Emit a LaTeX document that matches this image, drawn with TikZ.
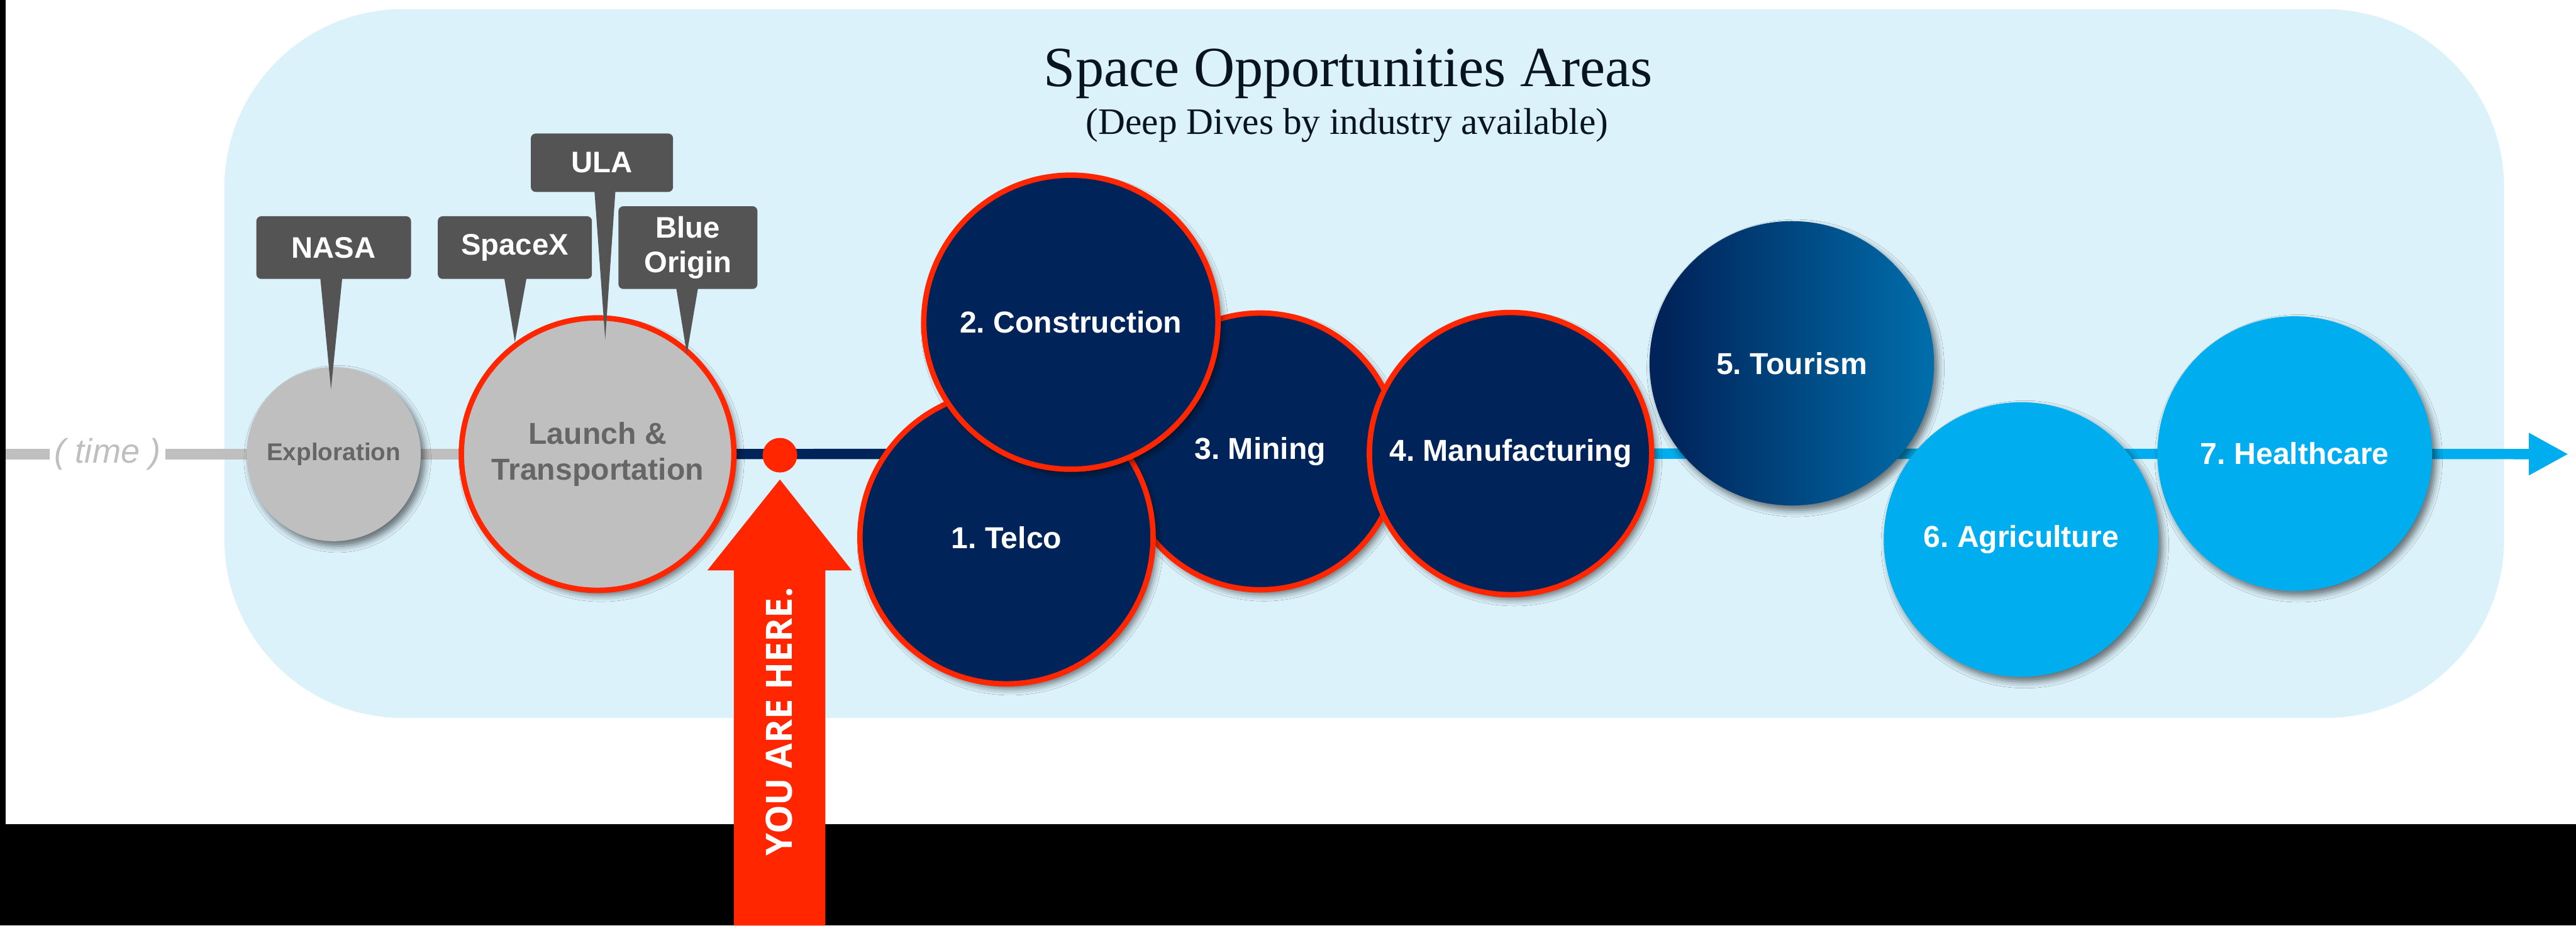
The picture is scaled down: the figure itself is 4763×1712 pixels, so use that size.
\documentclass[tikz,border=0pt]{standalone}
\usepackage{fontspec}
\setmainfont{Liberation Sans}
\newfontfamily\titleserif{Liberation Serif}
\newfontfamily\bannerfont{Open Sans}
\usetikzlibrary{calc,shadows.blur,arrows.meta}
\frenchspacing

\definecolor{navy}{RGB}{0,36,90}
\definecolor{sky}{RGB}{0,174,239}
\definecolor{alert}{RGB}{255,38,0}
\definecolor{stone}{RGB}{191,191,191}
\definecolor{slate}{RGB}{84,84,84}
\definecolor{mist}{RGB}{220,242,251}
\definecolor{ink}{RGB}{8,20,32}
\definecolor{dimtext}{RGB}{102,102,102}
\definecolor{tourend}{RGB}{0,150,215}

% navy on the left third, fading to blue on the right
\pgfdeclarehorizontalshading{tourfade}{100bp}{color(0bp)=(navy); color(28bp)=(navy); color(100bp)=(tourend)}

\begin{document}
\begin{tikzpicture}[x=1pt,y=-1pt,
  stage/.style={circle, inner sep=0pt, align=center, text=white,
    font=\bfseries\fontsize{56}{66}\selectfont,
    blur shadow={shadow xshift=7pt, shadow yshift=-9pt, shadow blur radius=12pt, shadow opacity=55}},
  current/.style={stage, fill=navy, draw=alert, line width=10pt},
  future/.style={stage, fill=sky},
  past/.style={stage, fill=stone, text=dimtext},
  tag/.style={rectangle, rounded corners=9pt, fill=slate, text=white, inner sep=0pt,
    align=center, font=\bfseries\fontsize{55}{65}\selectfont},
  track/.style={line width=19pt},
]
\useasboundingbox (0,0) rectangle (4763,1712);

% page, frame strips and the opportunity panel
\fill[white] (0,0) rectangle (4763,1712);
\fill[black] (0,0) rectangle (11,1712);
\fill[black] (0,1525) rectangle (4763,1712);
\fill[mist, rounded corners=330pt] (415,17) rectangle (4630,1328);

% heading
\node[font=\titleserif\fontsize{105}{110}\selectfont, text=ink, anchor=base] (title) at (2493,160) {Space Opportunities Areas};
\node[font=\titleserif\fontsize{69}{75}\selectfont, text=ink, anchor=base] (subtitle) at (2491,248) {(Deep Dives by industry available)};

% time axis label
\node[font=\itshape\fontsize{63}{70}\selectfont, text=stone, inner sep=9pt] (time) at (199,840) {( time )};

% stage centres, so the axis can run behind them
\coordinate (explc) at (617,840);
\coordinate (launchc) at (1105,840);
\coordinate (miningc) at (2330,835);
\coordinate (manuc) at (2793,839);
\coordinate (telcoc) at (1861,994);
\coordinate (constrc) at (1980,596);
\coordinate (tourc) at (3313,672);
\coordinate (agric) at (3737,998);
\coordinate (healthc) at (4243,839);
\coordinate (tstart) at (11,840);
\coordinate (tend) at (4749,840);

% axis
\draw[stone, track] (tstart) -- (time.west);
\draw[stone, track] (time.east) -- (launchc);
\draw[navy, track] (launchc) -- (manuc);
\draw[sky, track, -{Triangle[length=73pt,width=73pt]}] (manuc) -- (tend);

% stages along the axis
\node[past, minimum size=322pt, font=\bfseries\fontsize{45}{54}\selectfont] (expl) at (explc) {Exploration};
\node[past, draw=alert, line width=10pt, minimum size=504pt] (launch) at (launchc) {Launch \&\\Transportation};

\node[current, minimum size=512pt] (mining) at (miningc) {3. Mining};
\node[current, minimum size=522pt] (manu) at (manuc) {4. Manufacturing};
\node[current, minimum size=542pt] (telco) at (telcoc) {1. Telco};
\node[current, minimum size=544pt] (constr) at (constrc) {2. Construction};

\node[stage, shade, shading=tourfade, minimum size=526pt] (tour) at (tourc) {5. Tourism};
\node[future, minimum size=508pt] (agri) at (agric) {6. Agriculture};
\node[future, minimum size=508pt] (health) at (healthc) {7. Healthcare};

% company callouts
\node[tag, minimum width=286pt, minimum height=116pt] (nasa) at (617,458) {NASA};
\node[tag, minimum width=285pt, minimum height=116pt] (spacex) at (952,458) {SpaceX};
\node[tag, minimum width=263pt, minimum height=108pt] (ula) at (1113,301) {ULA};
\node[tag, minimum width=257pt, minimum height=153pt] (blue) at (1272,458) {Blue\\Origin};

\coordinate (pnasa) at (612,720);
\coordinate (pspacex) at (952,633);
\coordinate (pula) at (1119,628);
\coordinate (pblue) at (1270,655);
\fill[slate] ($(nasa.south)+(-25,-4)$) -- ($(nasa.south)+(16,-4)$) -- (pnasa) -- cycle;
\fill[slate] ($(spacex.south)+(-20,-4)$) -- ($(spacex.south)+(22,-4)$) -- (pspacex) -- cycle;
\fill[slate] ($(ula.south)+(-14,-4)$) -- ($(ula.south)+(25,-4)$) -- (pula) -- cycle;
\fill[slate] ($(blue.south)+(-22,-4)$) -- ($(blue.south)+(19,-4)$) -- (pblue) -- cycle;

% current position marker
\node[circle, fill=alert, minimum size=64pt, inner sep=0pt] (now) at (1442,842) {};
\coordinate (arrowtip) at (1442,887);
\fill[alert] (1357,1712) -- (1357,1055) -- (1308,1055) -- (arrowtip) -- (1575,1055) -- (1526,1055) -- (1526,1712) -- cycle;
\node[rotate=90, font=\bannerfont\bfseries\fontsize{67}{70}\selectfont, text=white] (here) at (1441,1335) {YOU ARE HERE.};

\end{tikzpicture}
\end{document}
